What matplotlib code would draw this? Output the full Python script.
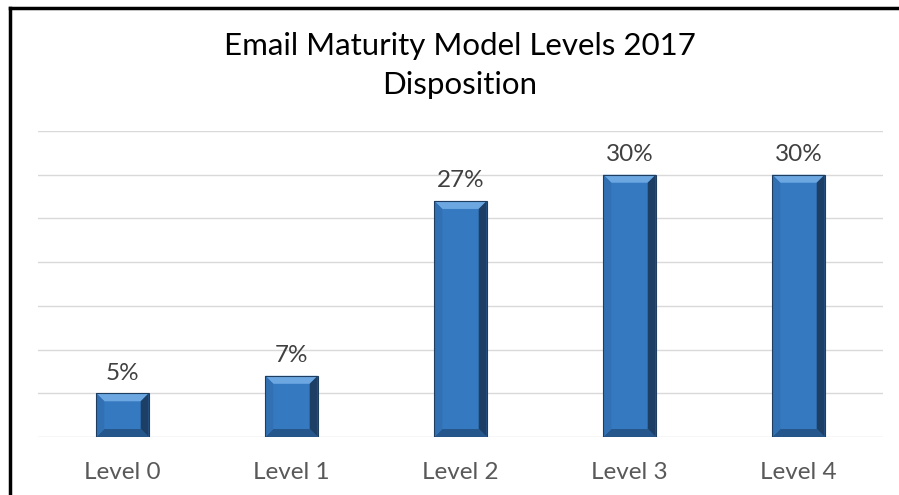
import numpy as np
import matplotlib
matplotlib.use("Agg")
from matplotlib import pyplot as plt
from matplotlib.patches import Polygon, Rectangle

# Data
levels = ["Level 0", "Level 1", "Level 2", "Level 3", "Level 4"]
shares = [5, 7, 27, 30, 30]
labels = ["5%", "7%", "27%", "30%", "30%"]

plt.rcParams['font.family'] = ['Lato', 'DejaVu Sans']

fig = plt.figure(figsize=(8.99, 4.95), dpi=100)
ax = fig.add_axes([38 / 899, 1 - 437 / 495, 845 / 899, 306 / 495])

x = np.arange(len(levels))
width = 0.31
face = "#3579c0"
bars = ax.bar(x, shares, width=width, color=face, zorder=3)

ax.set_xlim(-0.5, len(levels) - 0.5)
ax.set_ylim(0, 35)

# bevel look: light top, dark right and bottom edges
bx = 8 / 169  # bevel in data units along x
by = 8 / (306 / 35)  # bevel in data units along y
for b in bars:
    x0, x1 = b.get_x(), b.get_x() + b.get_width()
    h = b.get_height()
    top = Polygon([(x0, h), (x1, h), (x1 - bx, h - by), (x0 + bx, h - by)],
                  closed=True, color="#6ca7e2", zorder=4, lw=0)
    right = Polygon([(x1, h), (x1, 0), (x1 - bx, by), (x1 - bx, h - by)],
                    closed=True, color="#1d3f66", zorder=4, lw=0)
    bottom = Polygon([(x0, 0), (x1, 0), (x1 - bx, by), (x0 + bx, by)],
                     closed=True, color="#26578c", zorder=4, lw=0)
    left = Polygon([(x0, 0), (x0, h), (x0 + bx, h - by), (x0 + bx, by)],
                   closed=True, color="#3070b3", zorder=4, lw=0)
    for p in (top, right, bottom, left):
        ax.add_patch(p)
    ax.add_patch(Rectangle((x0, 0), x1 - x0, h, fill=False, ec="#1f3d5e",
                           lw=0.8, zorder=5))

for xi, v, t in zip(x, shares, labels):
    ax.text(xi, v + 1.1, t, ha="center", va="bottom", fontsize=17.5,
            color="#404040")

ax.set_yticks(np.arange(0, 36, 5))
ax.grid(axis="y", color="#d9d9d9", lw=1, zorder=0)
ax.tick_params(axis="y", left=False, labelleft=False)
ax.tick_params(axis="x", length=0, pad=18, labelsize=17.5, labelcolor="#595959")
ax.set_xticks(x, levels)
for s in ax.spines.values():
    s.set_visible(False)

fig.text(459.5 / 899, 1 - 46 / 495, "Email Maturity Model Levels 2017",
         ha="center", va="center", fontsize=22.5, color="#000000")
fig.text(459.5 / 899, 1 - 85 / 495, "Disposition", ha="center", va="center",
         fontsize=22.5, color="#000000")

# outer frame of the chart box
fig.add_artist(plt.Line2D([10 / 899, 10 / 899], [0, 1 - 8 / 495],
                          transform=fig.transFigure, color="black", lw=2.5))
fig.add_artist(plt.Line2D([10 / 899, 1], [1 - 8 / 495, 1 - 8 / 495],
                          transform=fig.transFigure, color="black", lw=2.5))

fig.savefig("out.png", dpi=100)
